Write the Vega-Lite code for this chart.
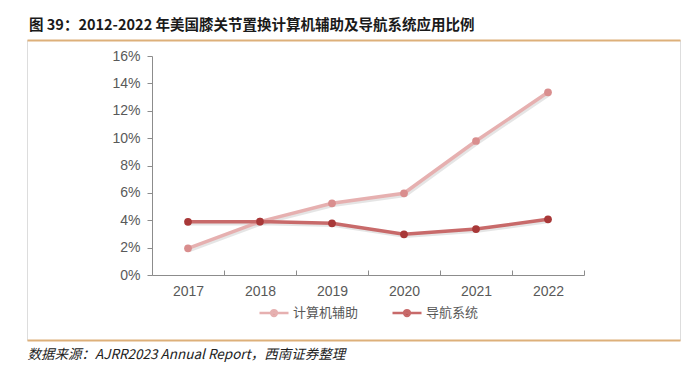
{
  "$schema": "https://vega.github.io/schema/vega-lite/v6.json",
  "width": 653,
  "height": 300,
  "autosize": {"type": "none"},
  "padding": {"left": 27, "top": 40, "right": 12, "bottom": 26},
  "background": "white",
  "title": {
    "text": "图 39：2012-2022 年美国膝关节置换计算机辅助及导航系统应用比例",
    "anchor": "start",
    "frame": "group",
    "dx": 2,
    "offset": 7,
    "font": "Noto Sans CJK SC",
    "fontSize": 14.5,
    "fontWeight": "bold",
    "color": "#1a1a1a"
  },
  "data": {
    "values": [
      {"year": "2017", "series": "计算机辅助", "value": 0.0195},
      {"year": "2018", "series": "计算机辅助", "value": 0.039},
      {"year": "2019", "series": "计算机辅助", "value": 0.0524},
      {"year": "2020", "series": "计算机辅助", "value": 0.0597},
      {"year": "2021", "series": "计算机辅助", "value": 0.0979},
      {"year": "2022", "series": "计算机辅助", "value": 0.1335},
      {"year": "2017", "series": "导航系统", "value": 0.0389},
      {"year": "2018", "series": "导航系统", "value": 0.039},
      {"year": "2019", "series": "导航系统", "value": 0.0378},
      {"year": "2020", "series": "导航系统", "value": 0.0297},
      {"year": "2021", "series": "导航系统", "value": 0.0336},
      {"year": "2022", "series": "导航系统", "value": 0.0407}
    ]
  },
  "resolve": {"scale": {"x": "independent"}, "axis": {"x": "independent"}},
  "layer": [
    {
      "encoding": {
        "x": {
          "field": "year",
          "type": "ordinal",
          "bandPosition": 0.5,
          "scale": {"type": "band", "range": [125, 557], "paddingInner": 0, "paddingOuter": 0},
          "axis": {
            "orient": "bottom",
            "offset": -65,
            "title": null,
            "tickBand": "extent",
            "tickSize": -5,
            "labelPadding": 14,
            "labelAngle": 0,
            "domainColor": "#8c8c8c",
            "tickColor": "#8c8c8c",
            "labelColor": "#595959",
            "labelFont": "Liberation Sans",
            "labelFontSize": 14,
            "grid": false
          }
        },
        "y": {
          "field": "value",
          "type": "quantitative",
          "scale": {"domain": [0, 0.16], "range": [235, 16], "nice": false, "zero": true},
          "axis": {
            "orient": "left",
            "offset": -125,
            "title": null,
            "values": [0, 0.02, 0.04, 0.06, 0.08, 0.1, 0.12, 0.14, 0.16],
            "format": ".0%",
            "tickSize": 5,
            "labelPadding": 7,
            "domainColor": "#8c8c8c",
            "tickColor": "#8c8c8c",
            "labelColor": "#595959",
            "labelFont": "Liberation Sans",
            "labelFontSize": 14,
            "grid": false
          }
        }
      },
      "layer": [
        {
          "mark": {"type": "line", "strokeWidth": 3.5, "color": "#000000", "opacity": 0.1, "xOffset": 1.5, "yOffset": 2},
          "encoding": {"detail": {"field": "series"}}
        },
        {
          "mark": {"type": "line", "strokeWidth": 3.5},
          "encoding": {
            "color": {
              "field": "series",
              "type": "nominal",
              "scale": {"domain": ["计算机辅助", "导航系统"], "range": ["#E6B0B0", "#C86A6A"]},
              "legend": {
                "orient": "none",
                "legendX": 231,
                "legendY": 257,
                "direction": "horizontal",
                "title": null,
                "symbolType": "M-1,0H1M0.2,0A0.2,0.2,0,1,1,-0.2,0A0.2,0.2,0,1,1,0.2,0",
                "symbolSize": 841,
                "symbolStrokeWidth": 2.5,
                "labelFontSize": 13,
                "labelColor": "#595959",
                "labelFont": "Noto Sans CJK SC",
                "columnPadding": 28,
                "labelOffset": 3,
                "encode": {
                  "symbols": {
                    "update": {
                      "fill": {"signal": "datum.value === '计算机辅助' ? '#D98E8E' : '#A83838'"},
                      "fillOpacity": {"value": 1}
                    }
                  }
                }
              }
            }
          }
        },
        {
          "mark": {"type": "point", "filled": true, "size": 60, "opacity": 1},
          "encoding": {
            "fill": {
              "field": "series",
              "type": "nominal",
              "scale": {"domain": ["计算机辅助", "导航系统"], "range": ["#D98E8E", "#A83838"]},
              "legend": null
            }
          }
        }
      ]
    },
    {
      "mark": {"type": "point", "opacity": 0},
      "encoding": {
        "x": {
          "datum": 0.5,
          "type": "quantitative",
          "scale": {"domain": [0, 1]},
          "axis": {"orient": "top", "domainColor": "#DDB07A", "domainWidth": 2, "ticks": false, "labels": false, "title": null, "grid": false}
        }
      }
    },
    {
      "mark": {"type": "point", "opacity": 0},
      "encoding": {
        "x": {
          "datum": 0.5,
          "type": "quantitative",
          "scale": {"domain": [0, 1]},
          "axis": {
            "orient": "bottom",
            "domainColor": "#DDB07A",
            "domainWidth": 2,
            "ticks": false,
            "labels": false,
            "grid": false,
            "title": "数据来源：AJRR2023 Annual Report，西南证券整理",
            "titleAnchor": "start",
            "titleAlign": "left",
            "titleBaseline": "top",
            "titlePadding": 7,
            "titleFont": "Noto Sans CJK SC",
            "titleFontSize": 13.5,
            "titleFontStyle": "italic",
            "titleFontWeight": "normal",
            "titleColor": "#222222"
          }
        }
      }
    }
  ]
}
